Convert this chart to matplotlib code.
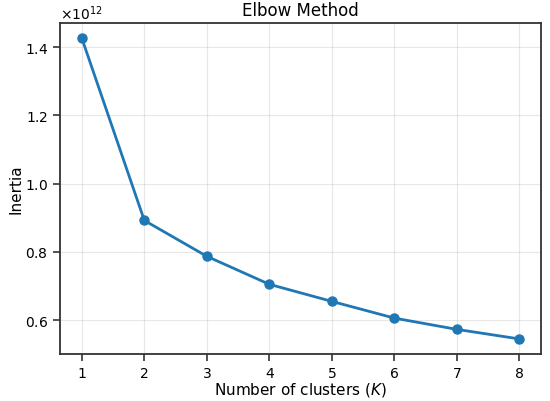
import matplotlib
matplotlib.use('Agg')
import matplotlib.pyplot as plt
from matplotlib.ticker import ScalarFormatter

k_values = [1, 2, 3, 4, 5, 6, 7, 8]
inertia = [1.426e12, 0.892e12, 0.787e12, 0.705e12, 0.655e12, 0.606e12, 0.573e12, 0.545e12]

fig, ax = plt.subplots(figsize=(5.5, 4.02), dpi=100)
fig.subplots_adjust(left=0.109, right=0.984, top=0.94, bottom=0.117)

ax.plot(k_values, inertia, marker='o', color='#1f77b4', linewidth=2, markersize=6.5)
ax.set_title('Elbow Method', fontsize=12)
ax.set_xlabel('Number of clusters ($K$)', fontsize=11, labelpad=0)
ax.set_ylabel('Inertia', fontsize=11, labelpad=1)

fmt = ScalarFormatter(useMathText=True)
fmt.set_scientific(True)
fmt.set_powerlimits((0, 0))
ax.yaxis.set_major_formatter(fmt)
ax.yaxis.get_offset_text().set_fontsize(10)

ax.tick_params(labelsize=10, width=1.2, length=5, color='#333333')
ax.grid(True, alpha=0.3)
for s in ax.spines.values():
    s.set_linewidth(1.3)
    s.set_color('#333333')

plt.savefig('out.png')
